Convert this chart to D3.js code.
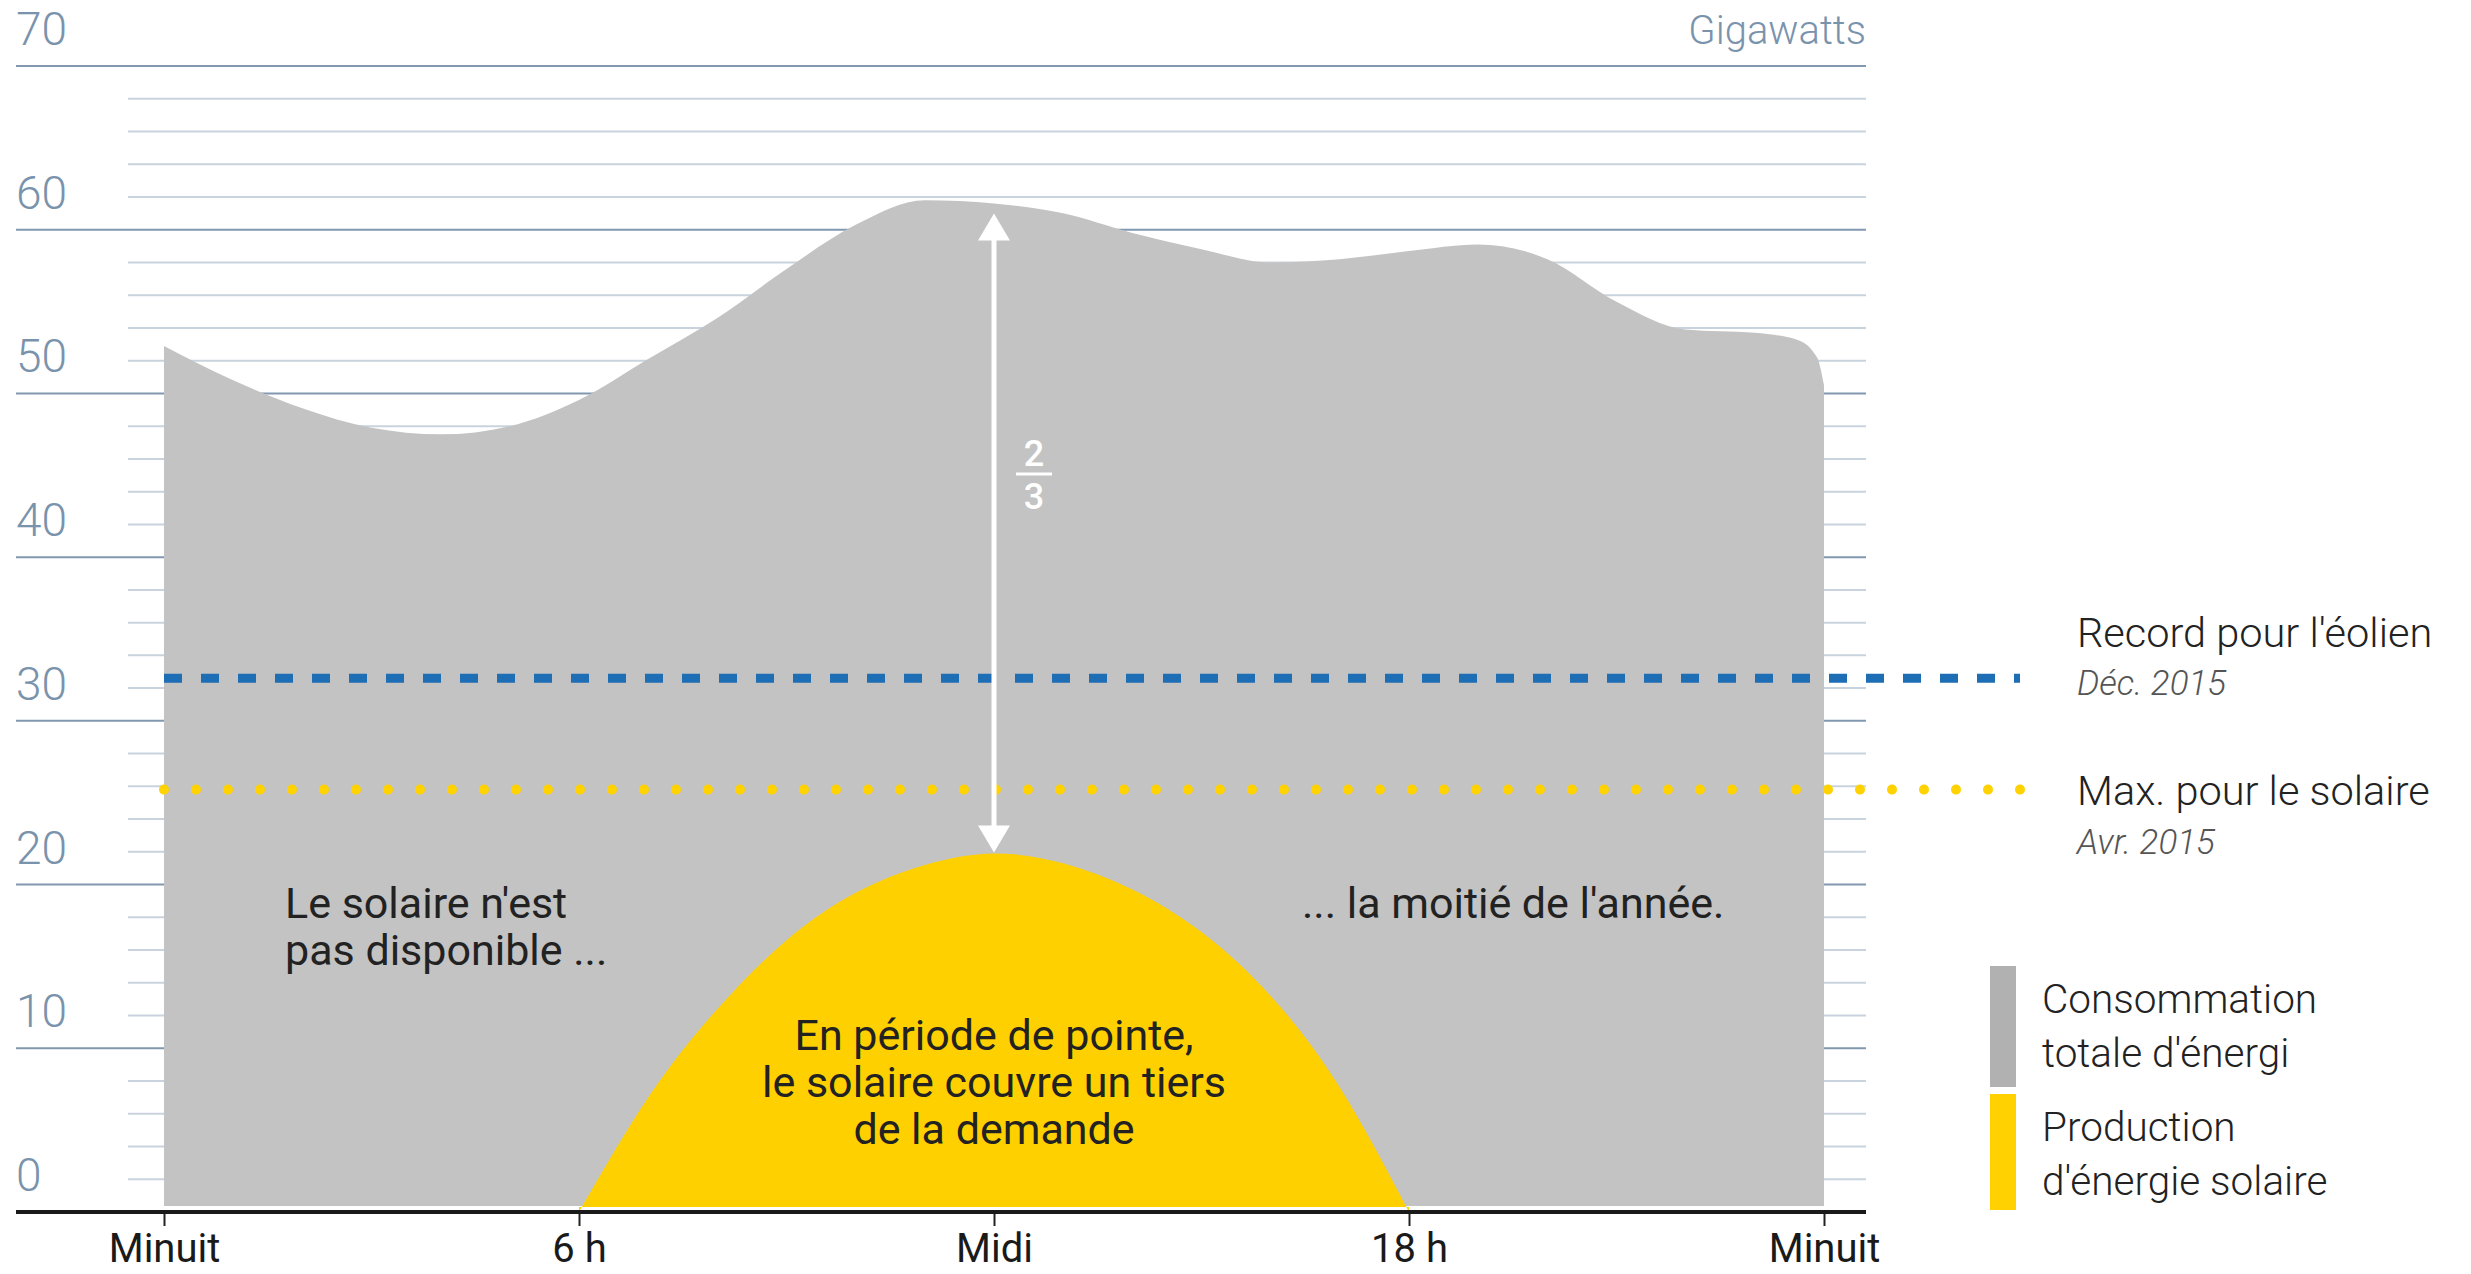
<!DOCTYPE html>
<html>
<head>
<meta charset="utf-8">
<script src="https://cdn.jsdelivr.net/npm/d3@7"></script>
<style>
  body { margin: 0; background: #fff; }
  text { font-family: Roboto, "Open Sans", sans-serif; }
</style>
</head>
<body>
<div id="chart"></div>
<script>
// consommation totale (GW) par heure
const hours = [0, 1, 2, 3, 4, 5, 6, 7, 8, 9, 10, 11, 12, 13, 14, 15, 16, 17, 18, 19, 20, 21, 22, 23, 23.6, 23.9, 24];
const consumption = [52.9, 50.8, 49.1, 47.9, 47.5, 48.0, 49.6, 52.1, 54.6, 57.6, 60.3, 61.8, 61.6, 61.0, 59.8, 58.8, 58.0, 58.2, 58.7, 59.1, 58.2, 55.6, 53.9, 53.7, 53.3, 52.2, 50.5];

// production solaire (GW)
const solarHours = [6, 7, 8, 9, 10, 11, 12, 13, 14, 15, 16, 17, 18];
const solar = [0, 7.0, 12.4, 16.6, 19.5, 21.2, 21.9, 21.3, 19.7, 17.1, 13.2, 7.6, 0];

const windRecord = 32.6;
const solarRecord = 25.8;

const yTicks = [0, 10, 20, 30, 40, 50, 60, 70];
const xTicks = [0, 6, 12, 18, 24];
const xTickLabels = ["Minuit", "6 h", "Midi", "18 h", "Minuit"];

const width = 2471;
const height = 1274;

const svg = d3.select("#chart")
  .append("svg")
  .attr("width", width)
  .attr("height", height);

const x = d3.scaleLinear().domain([0, 24]).range([164, 1824]);
const y = d3.scaleLinear().domain([0, 70]).range([1212, 66]);

const gridLeft = 16, minorLeft = 128, gridRight = 1866;
const areaGap = 6;

// grid
const grid = svg.append("g");
d3.range(2, 71, 2).forEach(v => {
  const major = v % 10 === 0;
  grid.append("line")
    .attr("x1", major ? gridLeft : minorLeft)
    .attr("x2", gridRight)
    .attr("y1", y(v))
    .attr("y2", y(v))
    .attr("stroke", major ? "#8298b0" : "#c9d3de")
    .attr("stroke-width", 2);
});

yTicks.forEach(v => {
  svg.append("text")
    .attr("x", gridLeft)
    .attr("y", y(v) - 21)
    .attr("fill", "#7a93ad")
    .attr("font-size", 46)
    .attr("font-weight", 300)
    .text(v);
});

svg.append("text")
  .attr("x", gridRight)
  .attr("y", y(70) - 22)
  .attr("text-anchor", "end")
  .attr("fill", "#7a93ad")
  .attr("font-size", 40)
  .attr("font-weight", 300)
  .text("Gigawatts");

// areas
const consData = hours.map((h, i) => ({ h: h, v: consumption[i] }));
const solarData = solarHours.map((h, i) => ({ h: h, v: solar[i] }));

const consArea = d3.area()
  .x(d => x(d.h))
  .y0(y(0) - areaGap)
  .y1(d => y(d.v))
  .curve(d3.curveMonotoneX);

const solarArea = d3.area()
  .x(d => x(d.h))
  .y0(y(0) - areaGap + 1)
  .y1(d => y(d.v))
  .curve(d3.curveNatural);

svg.append("path")
  .datum(consData)
  .attr("d", consArea)
  .attr("fill", "#c3c3c3");

svg.append("path")
  .datum(solarData)
  .attr("d", solarArea)
  .attr("fill", "#ffd000");

// record lines
svg.append("line")
  .attr("x1", x(0)).attr("x2", 2020)
  .attr("y1", y(windRecord)).attr("y2", y(windRecord))
  .attr("stroke", "#1e6eb6")
  .attr("stroke-width", 9)
  .attr("stroke-dasharray", "18 19");

svg.append("line")
  .attr("x1", x(0)).attr("x2", 2026)
  .attr("y1", y(solarRecord)).attr("y2", y(solarRecord))
  .attr("stroke", "#ffd200")
  .attr("stroke-width", 10)
  .attr("stroke-linecap", "round")
  .attr("stroke-dasharray", "0 32");

// arrow 2/3
const noon = consData.find(d => d.h === 12).v;
const noonSolar = solarData.find(d => d.h === 12).v;
const ax = x(12);
const aTop = y(noon) + 10;
const aBot = y(noonSolar) - 1;
const headW = 16, headH = 27;

svg.append("line")
  .attr("x1", ax).attr("x2", ax)
  .attr("y1", aTop + headH - 2).attr("y2", aBot - headH + 2)
  .attr("stroke", "#fff")
  .attr("stroke-width", 5);

svg.append("path")
  .attr("d", `M${ax},${aTop} L${ax - headW},${aTop + headH} L${ax + headW},${aTop + headH} Z`)
  .attr("fill", "#fff");
svg.append("path")
  .attr("d", `M${ax},${aBot} L${ax - headW},${aBot - headH} L${ax + headW},${aBot - headH} Z`)
  .attr("fill", "#fff");

const fx = ax + 40;
svg.append("text")
  .attr("x", fx).attr("y", 466)
  .attr("text-anchor", "middle")
  .attr("fill", "#fff")
  .attr("font-size", 36)
  .attr("font-weight", 500)
  .text("2");
svg.append("line")
  .attr("x1", fx - 18).attr("x2", fx + 18)
  .attr("y1", 474).attr("y2", 474)
  .attr("stroke", "#fff")
  .attr("stroke-width", 3);
svg.append("text")
  .attr("x", fx).attr("y", 509)
  .attr("text-anchor", "middle")
  .attr("fill", "#fff")
  .attr("font-size", 36)
  .attr("font-weight", 500)
  .text("3");

// x axis
const xAxis = d3.axisBottom(x)
  .tickValues(xTicks)
  .tickSize(14)
  .tickPadding(8)
  .tickFormat((d, i) => xTickLabels[i]);

const gx = svg.append("g")
  .attr("transform", `translate(0,${y(0)})`)
  .call(xAxis);
gx.select(".domain").remove();
gx.selectAll(".tick line").attr("stroke", "#222").attr("stroke-width", 2);
gx.selectAll(".tick text")
  .attr("fill", "#1a1a1a")
  .attr("font-size", 40)
  .attr("font-family", "Roboto, sans-serif")
  .attr("dy", "0.71em");

svg.append("line")
  .attr("x1", gridLeft).attr("x2", gridRight)
  .attr("y1", y(0)).attr("y2", y(0))
  .attr("stroke", "#1a1a1a")
  .attr("stroke-width", 4);

// annotations
const notes = svg.append("g").attr("fill", "#222").attr("font-size", 43);
notes.append("text").attr("x", 285).attr("y", 918).text("Le solaire n'est");
notes.append("text").attr("x", 285).attr("y", 965).text("pas disponible ...");
notes.append("text").attr("x", 1302).attr("y", 918).text("... la moitié de l'année.");

const peakLines = ["En période de pointe,", "le solaire couvre un tiers", "de la demande"];
peakLines.forEach((t, i) => {
  notes.append("text")
    .attr("x", x(12))
    .attr("y", 1050 + i * 47)
    .attr("text-anchor", "middle")
    .text(t);
});

// right labels
const side = svg.append("g").attr("font-size", 41.5);
side.append("text").attr("x", 2077).attr("y", 647).attr("fill", "#222").attr("font-weight", 300).text("Record pour l'éolien");
side.append("text").attr("x", 2077).attr("y", 695).attr("fill", "#555").attr("font-size", 35).attr("font-style", "italic").attr("font-weight", 300).text("Déc. 2015");
side.append("text").attr("x", 2077).attr("y", 805).attr("fill", "#222").attr("font-weight", 300).text("Max. pour le solaire");
side.append("text").attr("x", 2077).attr("y", 854).attr("fill", "#555").attr("font-size", 35).attr("font-style", "italic").attr("font-weight", 300).text("Avr. 2015");

// legend
const legendItems = [
  { color: "#b1b1b1", top: 966, bottom: 1087, lines: ["Consommation", "totale d'énergi"] },
  { color: "#ffd100", top: 1094, bottom: 1210, lines: ["Production", "d'énergie solaire"] }
];
const legend = svg.append("g");
legendItems.forEach(item => {
  legend.append("rect")
    .attr("x", 1990)
    .attr("y", item.top)
    .attr("width", 26)
    .attr("height", item.bottom - item.top)
    .attr("fill", item.color);
  item.lines.forEach((t, i) => {
    legend.append("text")
      .attr("x", 2042)
      .attr("y", item.top + 47 + i * 54)
      .attr("fill", "#222")
      .attr("font-size", 40.5)
      .attr("font-weight", 300)
      .text(t);
  });
});
</script>
</body>
</html>
